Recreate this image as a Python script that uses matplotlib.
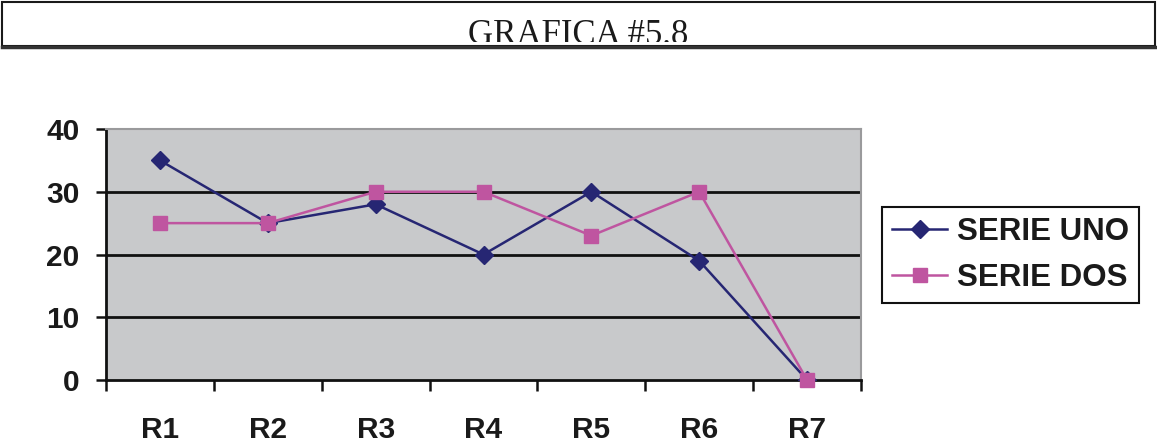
import matplotlib
matplotlib.use("Agg")
import matplotlib.pyplot as plt
from matplotlib.patches import Rectangle
from matplotlib.lines import Line2D

categories = ["R1", "R2", "R3", "R4", "R5", "R6", "R7"]
serie_uno = [35, 25, 28, 20, 30, 19, 0]
serie_dos = [25, 25, 30, 30, 23, 30, 0]
y_ticks = [0, 10, 20, 30, 40]
title = "GRAFICA #5.8"

W, H = 1157, 442
fig = plt.figure(figsize=(W / 100, H / 100), dpi=100)
fig.patch.set_facecolor("white")

def fx(px):
    return px / W

def fy(py):
    return 1 - py / H

# Title box
box = Rectangle((fx(2), fy(46)), fx(1153), 44 / H, transform=fig.transFigure,
                fill=False, edgecolor="#1a1a1a", linewidth=1.5)
fig.patches.append(box)
fig.add_artist(Line2D([fx(2), fx(1155)], [fy(46.5), fy(46.5)], transform=fig.transFigure,
                      color="#333333", linewidth=2.5))
t = fig.text(0.5, fy(43.5), title, ha="center", va="baseline",
             family="Liberation Serif", fontsize=25, color="#1a1a1a")
clip = Rectangle((fx(2), fy(42)), fx(1153), 40 / H, transform=fig.transFigure,
                 fill=False, linewidth=0)
t.set_clip_path(clip)
t.set_clip_on(True)

ax = fig.add_axes([fx(106), fy(380), fx(861 - 106), (380 - 129) / H])
ax.set_facecolor("#c8c9cb")
x = list(range(len(categories)))
for yv in [10, 20, 30]:
    ax.axhline(yv, color="#111111", linewidth=2, zorder=1)
ax.plot(x, serie_uno, color="#262673", linewidth=1.8, marker="D", markersize=9,
        markerfacecolor="#262673", markeredgecolor="#262673", label="SERIE UNO", zorder=3)
ax.plot(x, serie_dos, color="#bf55a0", linewidth=1.8, marker="s", markersize=10,
        markerfacecolor="#bf55a0", markeredgecolor="#bf55a0", label="SERIE DOS", zorder=3,
        clip_on=False)

ax.set_xlim(-0.5, len(categories) - 0.5)
ax.set_ylim(0, 40)
ax.set_yticks(y_ticks)
ax.set_yticklabels([str(v) for v in y_ticks])
ax.set_xticks(x)
ax.set_xticklabels(categories)
ax.set_xticks([i - 0.5 for i in range(len(categories) + 1)], minor=True)
ax.tick_params(axis="x", which="major", length=0, pad=26)
ax.tick_params(axis="x", which="minor", length=8, width=1.8, color="#111111", direction="out")
ax.tick_params(axis="y", which="major", length=7.5, width=1.8, color="#111111", pad=11.5)
for lab in ax.get_xticklabels() + ax.get_yticklabels():
    lab.set_family("Liberation Sans")
    lab.set_fontweight("bold")
    lab.set_fontsize(21.5)
    lab.set_color("#1a1a1a")

for s in ["left", "bottom"]:
    ax.spines[s].set_color("#111111")
    ax.spines[s].set_linewidth(2)
for s in ["top", "right"]:
    ax.spines[s].set_color("#9a9a9c")
    ax.spines[s].set_linewidth(1.5)

leg = fig.legend(loc="upper left", bbox_to_anchor=(fx(882), fy(207)),
                 prop={"family": "Liberation Sans", "weight": "bold", "size": 22.5},
                 frameon=True, fancybox=False, edgecolor="#111111", framealpha=1,
                 handlelength=1.75, handletextpad=0.32, borderpad=0.33, labelspacing=0.5,
                 borderaxespad=0)
leg.get_frame().set_linewidth(1.5)
for txt in leg.get_texts():
    txt.set_color("#1a1a1a")

fig.savefig("out.png", dpi=100)
